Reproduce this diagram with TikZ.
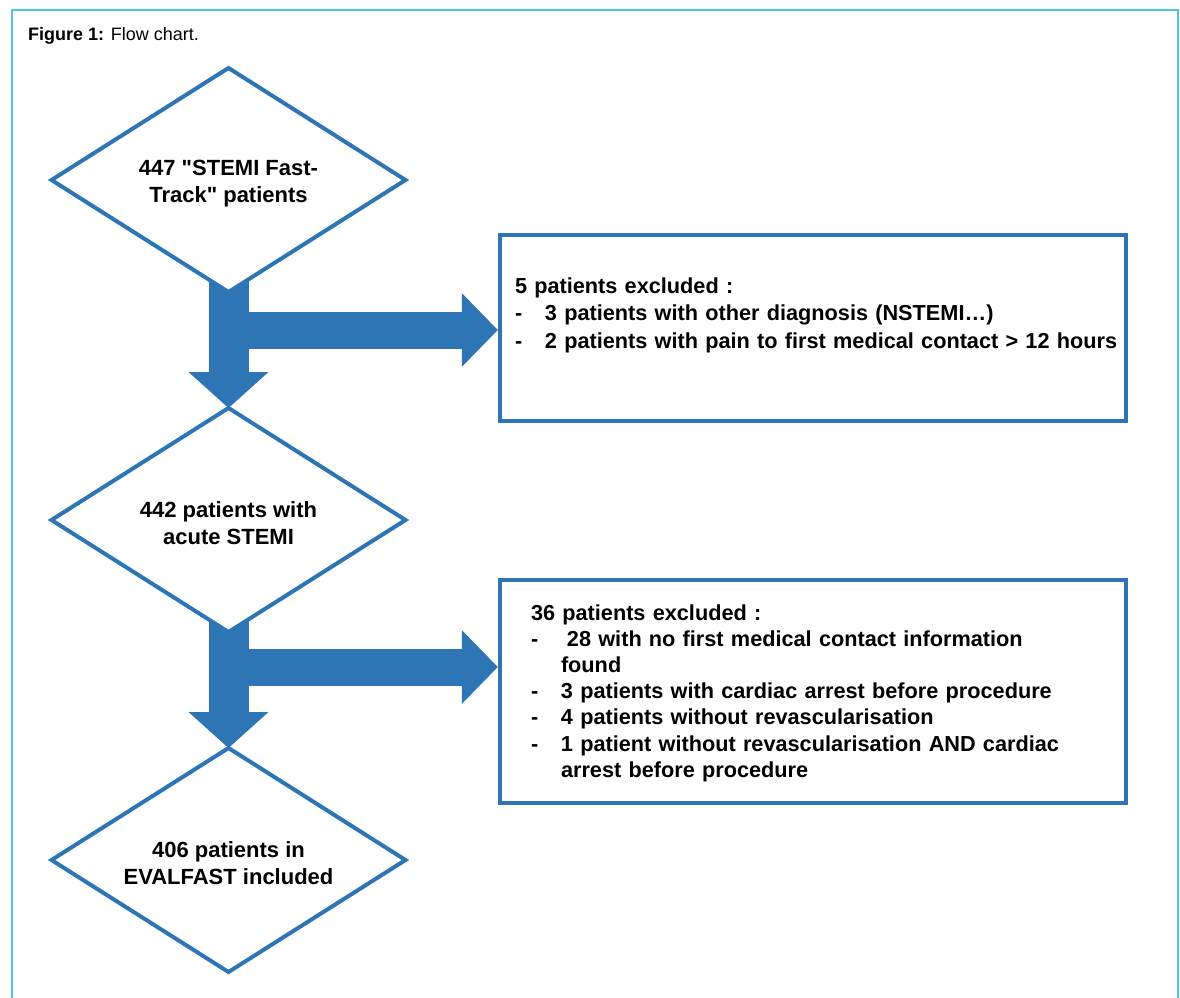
\documentclass[tikz,border=0pt]{standalone}
\usepackage{fontspec}
\setmainfont{Liberation Sans}
\usetikzlibrary{arrows.meta,positioning,shapes.geometric}
\definecolor{chartblue}{HTML}{2E75B6}
\definecolor{framecyan}{HTML}{4EC5DA}
\pgfdeclarelayer{back}
\pgfsetlayers{back,main}
\newcommand{\dashitem}[1]{\par\hangindent=30bp\hangafter=1\noindent\makebox[30bp][l]{-}#1\par}
\tikzset{
  stepdiamond/.style={
    diamond,
    aspect=1.58,
    draw=chartblue,
    fill=white,
    line width=4bp,
    minimum width=354bp,
    minimum height=224bp,
    inner sep=0pt,
    outer sep=0pt,
    text height=50bp,
    align=center,
    font=\bfseries\fontsize{22bp}{27bp}\selectfont
  },
  excludebox/.style={
    rectangle,
    draw=chartblue,
    fill=white,
    line width=4.5bp,
    minimum width=626bp,
    inner sep=0pt,
    text height=16bp,
    align=left
  },
  downarrow/.style={
    -{Triangle[length=36bp,width=80bp,line width=0pt]},
    line width=40bp,
    draw=chartblue
  },
  sidearrow/.style={
    -{Triangle[length=36bp,width=74bp,line width=0pt]},
    line width=37bp,
    draw=chartblue
  }
}
\begin{document}
\begin{tikzpicture}[x=1bp,y=1bp]
  \useasboundingbox (0,0) rectangle (1180,-998);
  \draw[framecyan, line width=2bp] (12,-1010) -- (12,-10) -- (1178,-10) -- (1178,-1010);
  \node[anchor=base west, inner sep=0pt, font=\fontsize{18bp}{22bp}\selectfont] (title) at (28,-40) {\textbf{Figure 1:} Flow chart.};
  \node[stepdiamond] (stemi) at (228.5,-180) {447 \textquotedbl STEMI Fast-\\Track\textquotedbl{} patients};
  \node[stepdiamond, below=116bp of stemi] (acute) {442 patients with\\acute STEMI};
  \node[stepdiamond, below=116bp of acute] (included) {406 patients in\\EVALFAST included};
  \node[excludebox, minimum height=186bp, text width=596bp, text depth=86bp,
        font=\bfseries\fontsize{21.7bp}{27.5bp}\selectfont] (firstout) at (813,-328)
    {5 patients excluded :
     \dashitem{3 patients with other diagnosis (NSTEMI…)}
     \dashitem{\mbox{2 patients with pain to first medical contact > 12 hours}}};
  \node[excludebox, minimum height=223bp, text width=564bp, text depth=159bp,
        font=\bfseries\fontsize{21.7bp}{26.2bp}\selectfont] (secondout) at (813,-691.5)
    {36 patients excluded :
     \dashitem{\hspace*{6bp}28 with no first medical contact information\newline found}
     \dashitem{3 patients with cardiac arrest before procedure}
     \dashitem{4 patients without revascularisation}
     \dashitem{1 patient without revascularisation AND cardiac\newline arrest before procedure}};
  \coordinate[below=38bp of stemi.south] (firstfork);
  \coordinate[below=35bp of acute.south] (secondfork);
  \begin{pgfonlayer}{back}
    \draw[downarrow] (stemi.center) -- (acute.north);
    \draw[downarrow] (acute.center) -- (included.north);
    \draw[sidearrow] (firstfork) -- (firstfork -| firstout.west);
    \draw[sidearrow] (secondfork) -- (secondfork -| secondout.west);
  \end{pgfonlayer}
\end{tikzpicture}
\end{document}
